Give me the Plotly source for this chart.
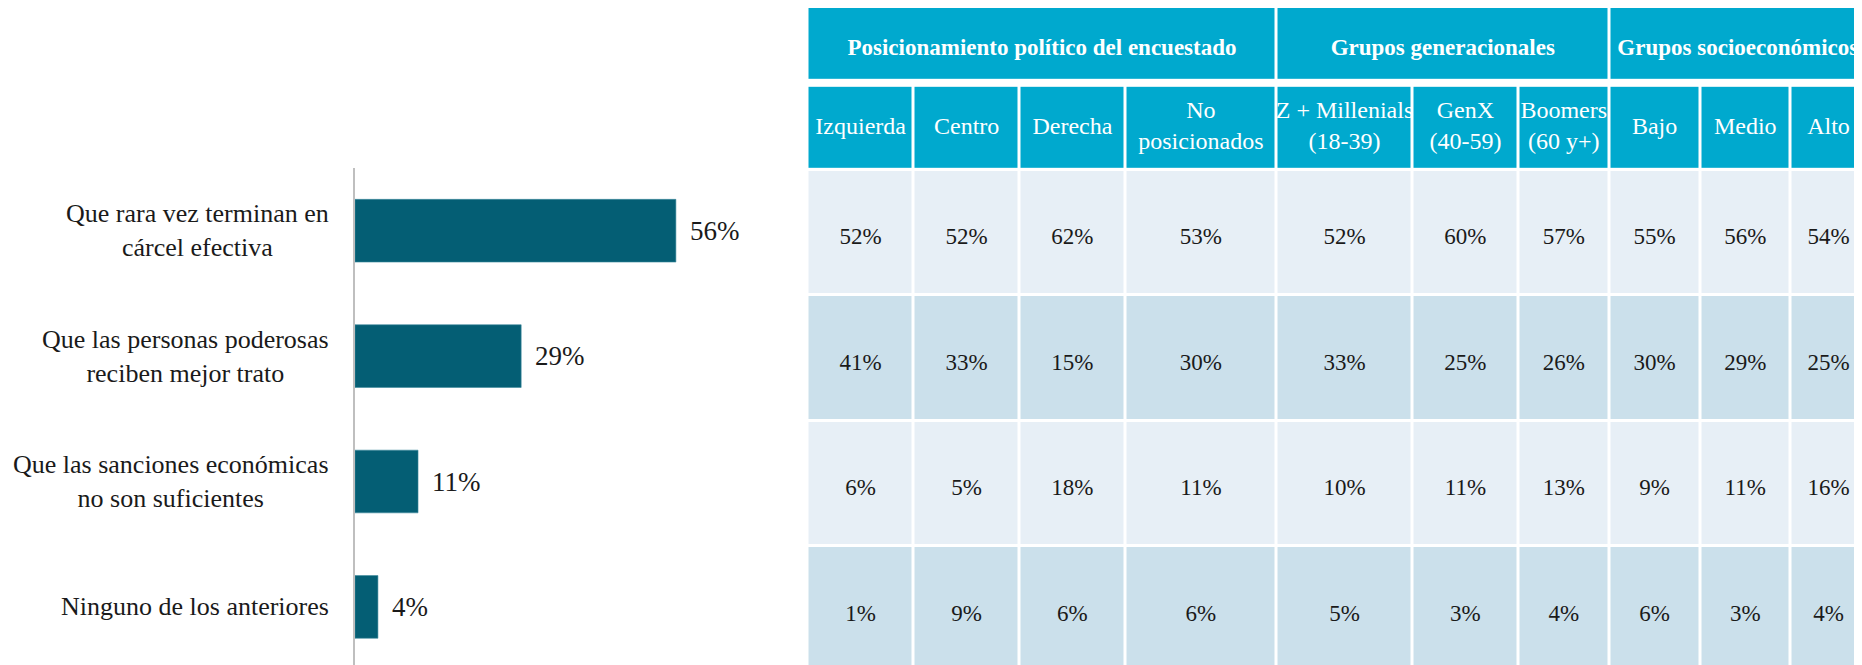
import numpy as np
import plotly.graph_objects as go

# ---------------- data ----------------
categories = [
    "Que rara vez terminan en<br>cárcel efectiva",
    "Que las personas poderosas<br>reciben mejor trato",
    "Que las sanciones económicas<br>no son suficientes",
    "Ninguno de los anteriores",
]
totals = [56, 29, 11, 4]

groups = ["Posicionamiento político del encuestado", "Grupos generacionales", "Grupos socioeconómicos"]
group_sizes = [4, 3, 3]
columns = ["Izquierda", "Centro", "Derecha", "No<br>posicionados",
           "Z + Millenials<br>(18-39)", "GenX<br>(40-59)", "Boomers<br>(60 y+)",
           "Bajo", "Medio", "Alto"]

row_carcel = [52, 52, 62, 53, 52, 60, 57, 55, 56, 54]
row_poderosas = [41, 33, 15, 30, 33, 25, 26, 30, 29, 25]
row_sanciones = [6, 5, 18, 11, 10, 11, 13, 9, 11, 16]
row_ninguno = [1, 9, 6, 6, 5, 3, 4, 6, 3, 4]
table_rows = [row_carcel, row_poderosas, row_sanciones, row_ninguno]

# ---------------- style / layout constants ----------------
W, H = 1862, 665
OFF = 8  # page body margin: figure is drawn 8px right/down of the window origin
FONT = "Liberation Serif"
BAR_COLOR = "#045E74"
CYAN = "#00A9CE"
LIGHT = "#E7EFF6"
DARK = "#CBE0EB"
TXT = "#1A1A1A"

BAR_LEFT = 355 - OFF
PX_PER_PCT = 5.73
X_MAX = 68
PLOT_TOP = 168 - OFF
ROW_H = 125.4

TABLE_LEFT = 807.5 - OFF
COL_W = [106.3, 105.7, 105.9, 151.1, 136.0, 105.9, 90.7, 90.9, 90.5, 92.0]
GROUP_Y = [6.8 - OFF, 80.8 - OFF]
HEAD_Y = [85.8 - OFF, 170.0 - OFF]
DATA_TOP = 170.0 - OFF
GROUP_TEXT_DY = 5.0
DATA_TEXT_DY = 6.0
ALTO_CENTER_SHIFT = -8.0  # last column is cut by the page edge; its text sits left of brick centre

col_edges = TABLE_LEFT + np.concatenate([[0], np.cumsum(COL_W)])
group_edges = col_edges[np.concatenate([[0], np.cumsum(group_sizes)])]
data_edges = DATA_TOP + ROW_H * np.arange(len(table_rows) + 1)

col_centers = (col_edges[:-1] + col_edges[1:]) / 2
col_centers[-1] += ALTO_CENTER_SHIFT
group_centers = (group_edges[:-1] + group_edges[1:]) / 2
group_centers[-1] += ALTO_CENTER_SHIFT
row_centers = (data_edges[:-1] + data_edges[1:]) / 2

fig = go.Figure()

# ---------------- bar chart ----------------
fig.add_trace(go.Bar(
    x=totals, y=categories, orientation="h", width=0.5,
    marker=dict(color=BAR_COLOR, line=dict(color="#3E8A9E", width=0.6)),
    hoverinfo="skip", xaxis="x", yaxis="y", showlegend=False,
))

x0_paper = BAR_LEFT / W
for cat, val in zip(categories, totals):
    fig.add_annotation(
        x=x0_paper, xref="paper", y=cat, yref="y", xanchor="right", yanchor="middle",
        xshift=-24, text=cat, showarrow=False, align="center",
        font=dict(family=FONT, size=26, color=TXT),
    )
    fig.add_annotation(
        x=val, xref="x", y=cat, yref="y", xanchor="left", yanchor="middle",
        xshift=12, text=f"{val}%", showarrow=False,
        font=dict(family=FONT, size=27, color=TXT),
    )

# ---------------- table (heatmap cells + text) ----------------
fig.add_trace(go.Heatmap(
    x=group_edges, y=GROUP_Y, z=[[1] * len(groups)],
    colorscale=[[0, CYAN], [1, CYAN]], showscale=False, xgap=3, ygap=3,
    hoverinfo="skip", xaxis="x2", yaxis="y2",
))
fig.add_trace(go.Heatmap(
    x=col_edges, y=HEAD_Y, z=[[1] * len(columns)],
    colorscale=[[0, CYAN], [1, CYAN]], showscale=False, xgap=3, ygap=3,
    hoverinfo="skip", xaxis="x2", yaxis="y2",
))
fig.add_trace(go.Heatmap(
    x=col_edges, y=data_edges,
    z=[[i % 2] * len(columns) for i in range(len(table_rows))],
    colorscale=[[0, LIGHT], [1, DARK]], zmin=0, zmax=1, showscale=False, xgap=3, ygap=3,
    hoverinfo="skip", xaxis="x2", yaxis="y2",
))

# group header text
fig.add_trace(go.Scatter(
    x=group_centers, y=[(GROUP_Y[0] + GROUP_Y[1]) / 2 + GROUP_TEXT_DY] * len(groups),
    mode="text", text=[f"<b>{g}</b>" for g in groups], textposition="middle center",
    textfont=dict(family=FONT, size=23, color="white"),
    hoverinfo="skip", showlegend=False, xaxis="x2", yaxis="y2", cliponaxis=False,
))
# column header text
fig.add_trace(go.Scatter(
    x=col_centers, y=[(HEAD_Y[0] + HEAD_Y[1]) / 2] * len(columns),
    mode="text", text=columns, textposition="middle center",
    textfont=dict(family=FONT, size=24, color="white"),
    hoverinfo="skip", showlegend=False, xaxis="x2", yaxis="y2", cliponaxis=False,
))
# data cell text
cx, cy, ct = [], [], []
for r, row in enumerate(table_rows):
    for c, v in enumerate(row):
        cx.append(col_centers[c])
        cy.append(row_centers[r] + DATA_TEXT_DY)
        ct.append(f"{v}%")
fig.add_trace(go.Scatter(
    x=cx, y=cy, mode="text", text=ct, textposition="middle center",
    textfont=dict(family=FONT, size=23, color=TXT),
    hoverinfo="skip", showlegend=False, xaxis="x2", yaxis="y2", cliponaxis=False,
))

bottom_units = (H - PLOT_TOP) / ROW_H - 0.5

fig.update_layout(
    width=W, height=H, margin=dict(l=0, r=0, t=0, b=0),
    paper_bgcolor="white", plot_bgcolor="rgba(0,0,0,0)",
    showlegend=False,
    xaxis=dict(domain=[x0_paper, (BAR_LEFT + X_MAX * PX_PER_PCT) / W], range=[0, X_MAX],
               visible=False, anchor="y"),
    yaxis=dict(domain=[0, 1 - PLOT_TOP / H], type="category", range=[bottom_units, -0.5],
               showline=True, linecolor="#BFBFBF", linewidth=2, showticklabels=False,
               showgrid=False, zeroline=False, ticks="", anchor="x"),
    xaxis2=dict(domain=[0, 1], range=[0, W], visible=False, anchor="y2"),
    yaxis2=dict(domain=[0, 1], range=[H, 0], visible=False, anchor="x2"),
)

fig.write_html("out.html")
